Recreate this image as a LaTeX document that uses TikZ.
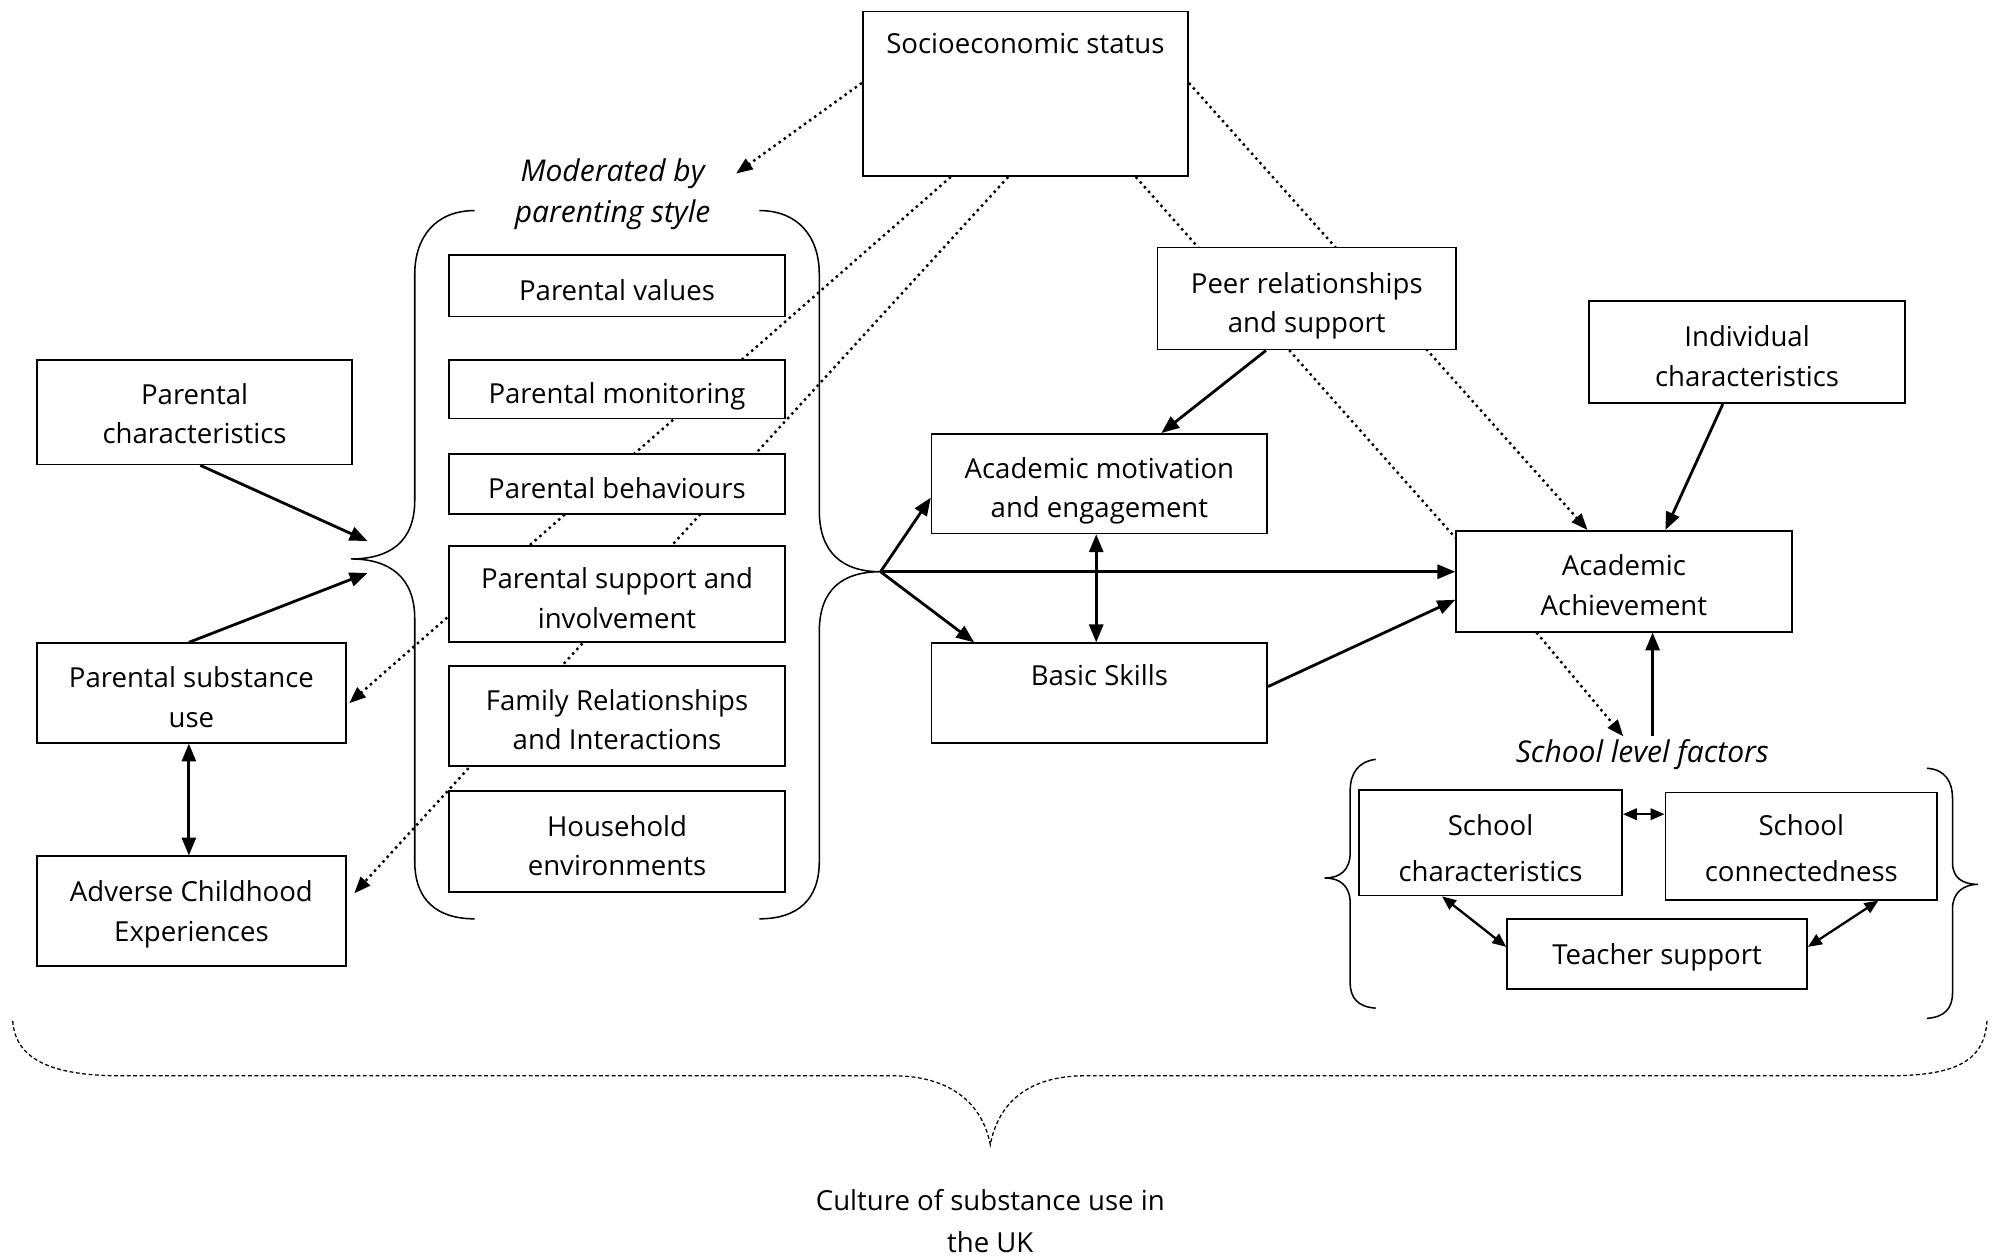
\documentclass[tikz,border=0pt]{standalone}
\usepackage{fontspec}
\setmainfont{Open Sans}
\usetikzlibrary{arrows.meta}
\pgfdeclarelayer{behind}
\pgfsetlayers{behind,main}
% centred lines of box text, set on a fixed baseline grid
\newcommand\lines[2][31.7pt]{\begin{tabular}{@{}c@{}}\rule{0pt}{#1}#2\end{tabular}}
\begin{document}
\begin{tikzpicture}[x=1pt,y=-1pt,
  every node/.style={font=\fontsize{21.6}{31}\selectfont},
  box/.style={draw, line width=1.3pt, fill=white, inner sep=0pt},
  schoolbox/.style={box, font=\fontsize{21.6}{36}\selectfont},
  toptext/.style={label={[anchor=center, yshift=-26pt]north:#1}},
  link/.style={line width=2.2pt, -{Triangle[length=14pt,width=11pt]}},
  twoway/.style={line width=2.2pt, {Triangle[length=14pt,width=11pt]}-{Triangle[length=14pt,width=11pt]}},
  smalltwoway/.style={line width=1.8pt, {Triangle[length=11pt,width=9pt]}-{Triangle[length=11pt,width=9pt]}},
  dots/.style={line width=1.9pt, dash pattern=on 1.9pt off 3pt},
  dotarrow/.style={dots, -{Triangle[length=13pt,width=10pt]}},
  bracket/.style={line width=1.2pt},
  culture/.style={line width=1pt, dash pattern=on 3pt off 2pt},
  note/.style={font=\fontsize{23.5}{32}\selectfont\itshape, align=center, inner sep=2pt}]

\useasboundingbox (0,0) rectangle (1568,987);

% ---- top ----
\node[box, minimum width=255pt, minimum height=129pt, toptext={Socioeconomic status}] (ses) at (803.5,73.5) {};
\node[note] (mod) at (480,152) {Moderated by\\parenting style};

% ---- parenting group ----
\node[box, minimum width=263pt, minimum height=48pt] (pval) at (483.5,224) {\lines{Parental values}};
\node[box, minimum width=263pt, minimum height=46pt] (pmon) at (483.5,305) {\lines{Parental monitoring}};
\node[box, minimum width=263pt, minimum height=47pt] (pbeh) at (483.5,379.5) {\lines{Parental behaviours}};
\node[box, minimum width=263pt, minimum height=75pt] (psup) at (483.5,465.5) {\lines{Parental support and\\involvement}};
\node[box, minimum width=263pt, minimum height=78pt] (pfam) at (483.5,561) {\lines{Family Relationships\\and Interactions}};
\node[box, minimum width=263pt, minimum height=79pt] (phou) at (483.5,659.5) {\lines{Household\\environments}};

\coordinate (ltip) at (275,438);
\coordinate (lin1) at (288,424);
\coordinate (lin2) at (288,449);
\coordinate (rtip) at (690,448);

\draw[bracket] (372,165) .. controls (342,165) and (325,185) .. (325,215) -- (325,392)
  .. controls (325,425) and (305,438) .. (ltip)
  .. controls (305,438) and (325,452) .. (325,485) -- (325,675)
  .. controls (325,705) and (342,720) .. (372,720);
\draw[bracket] (595,165) .. controls (625,165) and (642,185) .. (642,215) -- (642,400)
  .. controls (642,433) and (660,448) .. (rtip)
  .. controls (660,448) and (642,462) .. (642,495) -- (642,675)
  .. controls (642,705) and (625,720) .. (595,720);

% ---- left column ----
\node[box, minimum width=247pt, minimum height=82pt] (pchar) at (152.5,323) {\lines[28pt]{Parental\\characteristics}};
\node[box, minimum width=242pt, minimum height=78pt] (psub) at (150,543) {\lines{Parental substance\\use}};
\node[box, minimum width=242pt, minimum height=86pt] (ace) at (150,714) {\lines[25.7pt]{Adverse Childhood\\Experiences}};

% ---- middle and right ----
\node[box, minimum width=234pt, minimum height=80pt] (peer) at (1024,234) {\lines{Peer relationships\\and support}};
\node[box, minimum width=248pt, minimum height=80pt] (indiv) at (1369,276) {\lines{Individual\\characteristics}};
\node[box, minimum width=263pt, minimum height=78pt] (amot) at (861.5,379) {\lines{Academic motivation\\and engagement}};
\node[box, minimum width=263pt, minimum height=78pt, toptext={Basic Skills}] (bskill) at (861.5,543) {};
\node[box, minimum width=263pt, minimum height=79pt] (aach) at (1272.5,455.5) {\lines{Academic\\Achievement}};

% ---- school level ----
\node[note] (slf) at (1287,591) {School level factors};
\node[schoolbox, minimum width=206pt, minimum height=79pt] (schar) at (1168,660.5) {\lines[35.7pt]{School\\characteristics}};
\node[schoolbox, minimum width=213pt, minimum height=84pt] (sconn) at (1411.5,663) {\lines[29.7pt]{School\\connectedness}};
\node[box, minimum width=235pt, minimum height=55pt] (teach) at (1298.5,747.5) {\lines[25.7pt]{Teacher support}};

\draw[bracket] (1078,595) .. controls (1064,597) and (1058,606) .. (1058,620) -- (1058,668)
  .. controls (1058,682) and (1050,688) .. (1038,688)
  .. controls (1050,688) and (1058,694) .. (1058,708) -- (1058,770)
  .. controls (1058,782) and (1064,789) .. (1078,790);
\draw[bracket] (1510,602) .. controls (1524,603) and (1530,612) .. (1530,626) -- (1530,676)
  .. controls (1530,688) and (1538,693) .. (1550,693)
  .. controls (1538,693) and (1530,700) .. (1530,712) -- (1530,778)
  .. controls (1530,790) and (1524,797) .. (1510,798);

% ---- solid connectors ----
\draw[link] ([xshift=4.5pt]pchar.south) -- (lin1);
\draw[link] ([xshift=-2pt]psub.north) -- (lin2);
\draw[twoway] ([xshift=-2pt]psub.south) -- ([xshift=-2pt]ace.north);
\draw[link] (rtip) -- ([yshift=-11pt]amot.west);
\draw[link] (rtip) -- ([yshift=7.5pt]aach.west);
\draw[link] (rtip) -- ([xshift=34pt]bskill.north west);
\draw[twoway] ([xshift=-2.5pt]amot.south) -- ([xshift=-2.5pt]bskill.north);
\draw[link] ([xshift=-32pt]peer.south) -- ([xshift=48.5pt]amot.north);
\draw[link] ([xshift=-19pt]indiv.south) -- ([xshift=32.5pt]aach.north);
\draw[link] ([yshift=5pt]bskill.east) -- ([yshift=-14.5pt]aach.west);
\draw[link] ([xshift=8pt]slf.north) -- ([xshift=22.5pt]aach.south);
\draw[smalltwoway] ([yshift=22.5pt]schar.east) -- ([yshift=25pt]sconn.west);
\draw[smalltwoway] ([xshift=-38pt]schar.south) -- ([yshift=5.5pt]teach.west);
\draw[smalltwoway] ([yshift=5.5pt]teach.east) -- ([xshift=60.5pt]sconn.south);

% ---- dotted influences of socioeconomic status ----
\begin{pgfonlayer}{behind}
\draw[dotarrow] ([yshift=8.5pt]ses.west) -- ([xshift=18pt,yshift=16pt]mod.east);
\draw[dotarrow] ([xshift=-58.5pt]ses.south) -- ([xshift=2pt,yshift=-8pt]psub.east);
\draw[dotarrow] ([xshift=-13.5pt]ses.south) -- ([xshift=6pt,yshift=14pt]ace.east);
\draw[dots] ([xshift=86.5pt]ses.south) -- ([yshift=-6pt]aach.north west);
\draw[dotarrow] ([yshift=8.5pt]ses.east) -- ([xshift=-28.5pt]aach.north);
\draw[dotarrow] ([xshift=-68.5pt]aach.south) -- ([xshift=-15pt]slf.north);
\end{pgfonlayer}

% ---- wider context ----
\draw[culture] (10,800) .. controls (12,830) and (40,843) .. (95,843) -- (700,843)
  .. controls (745,843) and (770,865) .. (776,897)
  .. controls (782,865) and (805,843) .. (850,843) -- (1480,843)
  .. controls (1535,843) and (1555,830) .. (1557,800);
\node[align=center, font=\fontsize{21.6}{33}\selectfont] (cult) at (776,957) {Culture of substance use in\\the UK};

\end{tikzpicture}
\end{document}
